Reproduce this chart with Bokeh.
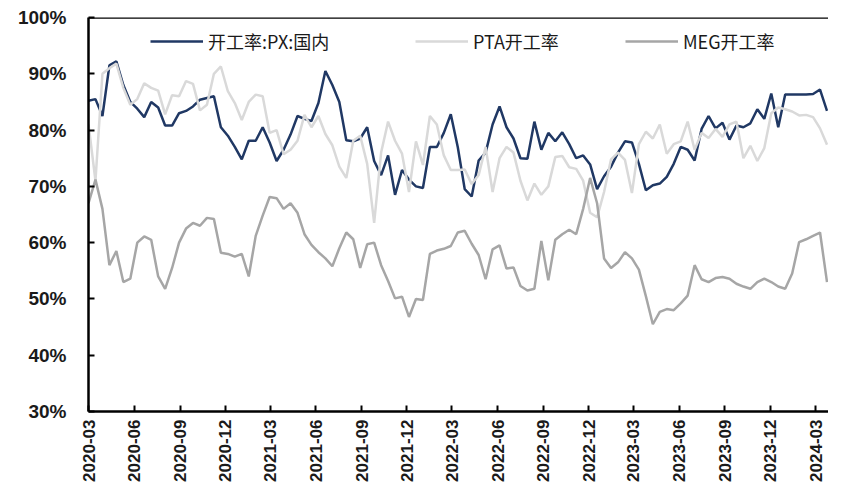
import pandas as pd
from bokeh.plotting import figure
from bokeh.models import Range1d, FixedTicker, DatetimeTickFormatter, Legend, LegendItem, Span, ColumnDataSource
from bokeh.embed import file_html
from bokeh.resources import INLINE
import math

# ---- data (biweekly readings, %)
dates = pd.date_range("2020-03-01", periods=107, freq="14D")

px = [85.2, 85.5, 82.5, 91.5, 92.2, 88.0, 85.0, 83.8, 82.3, 85.0,
      84.0, 80.8, 80.8, 83.0, 83.4, 84.2, 85.4, 85.7, 86.0, 80.5,
      79.0, 77.0, 74.8, 78.1, 78.1, 80.5, 77.8, 74.5, 76.5, 79.2,
      82.5, 82.0, 81.6, 84.8, 90.5, 88.0, 85.0, 78.2, 78.0, 78.5,
      80.5, 74.5, 72.0, 75.5, 68.5, 72.9, 71.2, 70.0, 69.7, 77.0,
      77.0, 79.5, 82.8, 77.0, 69.5, 68.2, 74.6, 76.0, 81.0, 84.2,
      80.5, 78.5, 75.0, 74.9, 81.5, 76.5, 79.5, 78.0, 79.6, 77.5,
      75.0, 75.5, 73.9, 69.5, 71.8, 73.5, 76.0, 78.0, 77.8, 74.0,
      69.3, 70.2, 70.5, 71.7, 74.0, 77.0, 76.5, 74.6, 80.2, 82.5,
      80.3, 81.3, 78.3, 80.8, 80.5, 81.2, 83.7, 82.0, 86.5, 80.5,
      86.3, 86.3, 86.3, 86.3, 86.4, 87.2, 83.4]

pta = [81.0, 71.0, 90.0, 91.0, 91.8, 87.5, 84.5, 85.5, 88.3, 87.5,
       87.0, 82.8, 86.2, 86.0, 88.7, 88.2, 83.5, 84.5, 90.0, 91.3,
       86.9, 84.8, 81.8, 85.0, 86.3, 86.0, 79.5, 80.0, 75.7, 76.5,
       78.1, 82.7, 80.5, 82.5, 79.3, 77.3, 73.5, 71.5, 78.1, 79.0,
       74.0, 63.5, 76.0, 81.5, 78.1, 75.8, 69.0, 78.0, 73.8, 82.5,
       81.0, 75.5, 72.9, 72.9, 73.0, 70.4, 72.0, 77.0, 69.0, 75.0,
       77.0, 76.0, 71.0, 67.5, 70.5, 68.5, 70.0, 75.2, 75.4, 73.4,
       73.1, 71.0, 65.3, 64.5, 69.0, 74.8, 76.0, 74.7, 68.8, 77.5,
       79.7, 78.5, 81.0, 75.8, 77.5, 78.0, 81.5, 76.5, 79.5, 78.6,
       80.2, 78.8, 81.0, 81.5, 75.0, 77.2, 74.5, 76.8, 83.0, 84.0,
       83.7, 83.3, 82.6, 82.7, 82.3, 80.3, 77.4]

meg = [67.0, 71.2, 66.0, 56.0, 58.5, 53.0, 53.6, 60.0, 61.1, 60.5,
       54.0, 51.8, 55.5, 60.0, 62.5, 63.5, 63.0, 64.4, 64.2, 58.2,
       58.0, 57.5, 58.0, 54.0, 61.2, 64.8, 68.1, 67.9, 66.0, 67.0,
       65.3, 61.5, 59.6, 58.3, 57.2, 55.8, 59.0, 61.8, 60.6, 55.5,
       59.7, 60.0, 56.0, 53.2, 50.1, 50.4, 46.8, 50.0, 49.8, 58.0,
       58.6, 58.9, 59.4, 61.8, 62.1, 59.8, 57.8, 53.5, 58.8, 59.5,
       55.4, 55.6, 52.3, 51.5, 51.8, 60.3, 53.3, 60.5, 61.5, 62.3,
       61.5, 66.0, 71.5, 67.0, 57.2, 55.5, 56.5, 58.3, 57.2, 55.2,
       50.5, 45.5, 47.7, 48.2, 48.0, 49.2, 50.6, 56.0, 53.5, 53.0,
       53.7, 53.9, 53.6, 52.7, 52.2, 51.8, 53.0, 53.6, 53.0, 52.2,
       51.8, 54.5, 60.1, 60.6, 61.2, 61.8, 53.0]

series_names = ["开工率:PX:国内", "PTA开工率", "MEG开工率"]
series_colors = ["#203864", "#d9d9d9", "#a6a6a6"]

x_tick_labels = ["2020-03", "2020-06", "2020-09", "2020-12", "2021-03", "2021-06",
                 "2021-09", "2021-12", "2022-03", "2022-06", "2022-09", "2022-12",
                 "2023-03", "2023-06", "2023-09", "2023-12", "2024-03"]
y_ticks = [30, 40, 50, 60, 70, 80, 90, 100]

# ---- figure
def ms(ts):
    return pd.Timestamp(ts).value // 10**6

src = ColumnDataSource(dict(date=dates, px=px, pta=pta, meg=meg))

FH = 394
p = figure(frame_width=740, frame_height=FH, output_backend="svg", toolbar_location=None,
           x_axis_type="datetime",
           x_range=Range1d(ms("2020-03-01"), ms("2024-03-27")),
           y_range=Range1d(30, 100),
           min_border_left=88, min_border_right=0, min_border_top=17, min_border_bottom=73)
p.outline_line_color = None
p.background_fill_color = "white"
p.border_fill_color = "white"
p.xgrid.grid_line_color = None
p.ygrid.grid_line_color = None

renderers = []
for col, color in zip(["px", "pta", "meg"], series_colors):
    r = p.line("date", col, source=src, line_color=color, line_width=2.5)
    renderers.append(r)

# axes
p.xaxis.ticker = FixedTicker(ticks=[ms(t + "-01") for t in x_tick_labels])
p.xaxis.formatter = DatetimeTickFormatter(months="%Y-%m", days="%Y-%m", years="%Y-%m")
p.xaxis.major_label_orientation = math.pi / 2
p.yaxis.ticker = FixedTicker(ticks=y_ticks)
p.yaxis.major_label_overrides = {v: f"{v}%" for v in y_ticks}

for ax in (p.xaxis[0], p.yaxis[0]):
    ax.axis_line_color = "black"
    ax.axis_line_width = 2.5
    ax.major_tick_line_color = "black"
    ax.major_tick_line_width = 2
    ax.major_tick_in = 6
    ax.major_tick_out = 0
    ax.minor_tick_line_color = None
    ax.major_label_text_font = "Liberation Sans"
    ax.major_label_text_font_style = "bold"
    ax.major_label_text_color = "#1a1a1a"

p.yaxis.major_label_text_font_size = "19px"
p.yaxis.major_label_standoff = 22
p.xaxis.major_label_text_font_size = "17px"
p.xaxis.major_label_standoff = 8

p.add_layout(Span(location=100, dimension="width", line_color="black", line_width=2.5))

# legends, one per item placed at the reference positions
for r, name, xloc in zip(renderers, series_names, [62, 327, 537]):
    lg = Legend(items=[LegendItem(label=name, renderers=[r])], location=(xloc, FH - 37),
                orientation="horizontal", padding=0, margin=0, spacing=0,
                glyph_width=53, glyph_height=20, label_height=20, label_standoff=5,
                label_text_font="Noto Sans CJK SC", label_text_font_size="18px",
                label_text_color="#1a1a1a",
                background_fill_alpha=0, border_line_color=None)
    p.add_layout(lg)

open("out.html", "w").write(file_html(p, INLINE))
